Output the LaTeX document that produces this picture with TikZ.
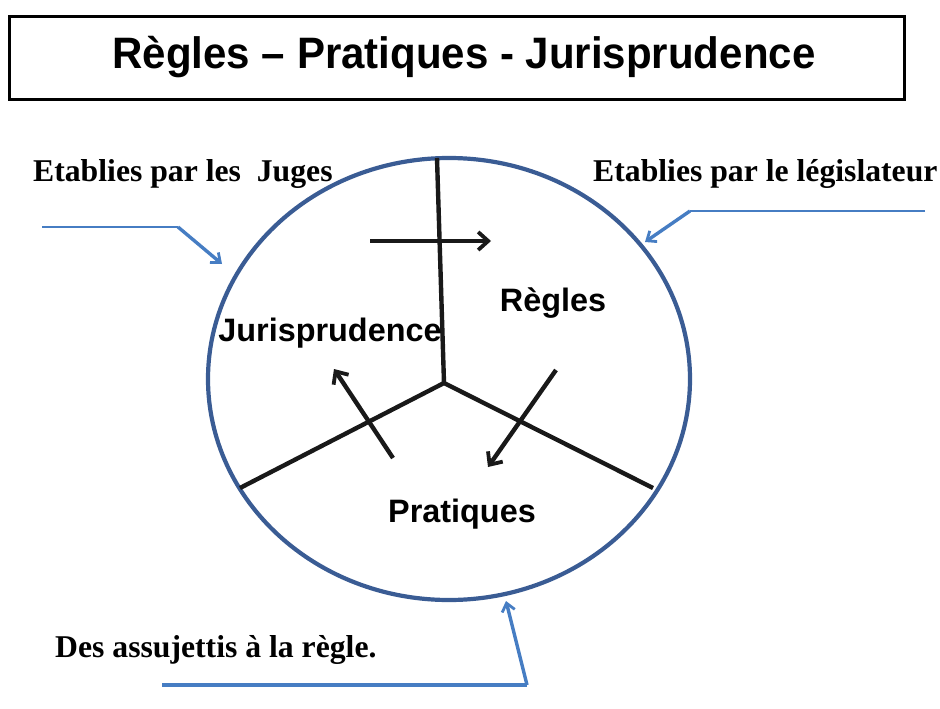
\documentclass[tikz,border=0pt]{standalone}
\usepackage{fontspec}
\setmainfont{Liberation Serif}
\newfontfamily\arialf{Liberation Sans}
\usetikzlibrary{arrows.meta,shapes.geometric}
\definecolor{ringblue}{RGB}{58,92,148}
\definecolor{leadblue}{RGB}{70,125,195}
\tikzset{
  sect/.style={line width=4.4pt, black!90},
  blkarrow/.style={line width=4.4pt, black!90, -{Straight Barb[length=10pt,width=18pt,line width=3.8pt]}},
  leadline/.style={line width=1.9pt, leadblue},
  leadarrow/.style={line width=3.4pt, leadblue, -{Straight Barb[length=8pt,width=13pt,line width=2.8pt]}},
  seclabel/.style={font=\arialf\bfseries\fontsize{32.4}{38}\selectfont, inner sep=0pt},
  sidelabel/.style={font=\bfseries\fontsize{31.7}{38}\selectfont, inner sep=0pt, anchor=base west},
}
\begin{document}
\begin{tikzpicture}[x=1pt,y=-1pt]
\useasboundingbox (0,0) rectangle (940,709);
% title box
\node[draw, line width=3pt, minimum width=895pt, minimum height=83pt, anchor=north west, inner sep=0pt] (titlebox) at (8,15) {};
\node[font=\arialf\bfseries\fontsize{44}{50}\selectfont, xscale=0.955, inner sep=0pt] (title) at (464,57) {Règles – Pratiques - Jurisprudence};
% circle
\node[draw=ringblue, line width=4.2pt, ellipse, minimum width=482pt, minimum height=442pt, inner sep=0pt] (ring) at (449,379) {};
% sectors
\coordinate (ctr) at (444,383);
\coordinate (top) at (437,158);
\coordinate (lft) at (240,488);
\coordinate (rgt) at (653,488);
\draw[sect] (top) -- (ctr) -- (lft);
\draw[sect] (ctr) -- (rgt);
% black arrows
\coordinate (a1s) at (370,241); \coordinate (a1e) at (491,241);
\coordinate (a2s) at (393,458); \coordinate (a2e) at (334,369);
\coordinate (a3s) at (556,370); \coordinate (a3e) at (488,467);
\draw[blkarrow] (a1s) -- (a1e);
\draw[blkarrow] (a2s) -- (a2e);
\draw[blkarrow] (a3s) -- (a3e);
% sector labels
\node[seclabel] (jur) at (330,333) {Jurisprudence};
\node[seclabel] (reg) at (553,303) {Règles};
\node[seclabel] (pra) at (462,514) {Pratiques};
% side labels
\node[sidelabel] (juges) at (33,181) {Etablies par les\ \ Juges};
\node[sidelabel] (legis) at (593,181) {Etablies par le législateur};
\node[sidelabel] (assuj) at (55,657) {Des assujettis à la règle.};
% lead lines
\coordinate (l1a) at (42,227); \coordinate (l1b) at (178,227); \coordinate (l1c) at (222,264);
\coordinate (l2a) at (925,211); \coordinate (l2b) at (690,211); \coordinate (l2c) at (645,242);
\coordinate (l3a) at (162,685); \coordinate (l3b) at (527,685); \coordinate (l3c) at (506,601);
\draw[leadline] (l1a) -- (l1b);
\draw[leadarrow] (l1b) -- (l1c);
\draw[leadline] (l2a) -- (l2b);
\draw[leadarrow] (l2b) -- (l2c);
\draw[leadline, line width=3.2pt] (l3a) -- (l3b);
\draw[leadarrow] (l3b) -- (l3c);
\end{tikzpicture}
\end{document}
